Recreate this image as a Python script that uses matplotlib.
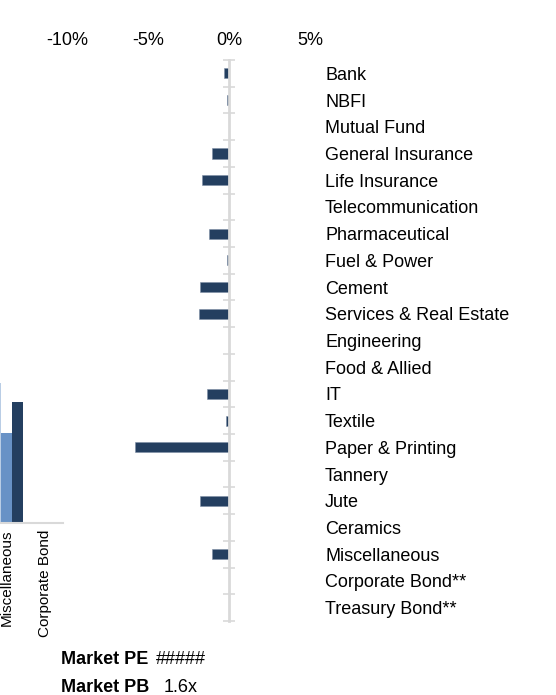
import matplotlib.pyplot as plt
import numpy as np

plt.rcParams['font.family'] = ['Liberation Sans', 'DejaVu Sans']

# sector-wise change (%)
sectors = ['Bank', 'NBFI', 'Mutual Fund', 'General Insurance', 'Life Insurance',
           'Telecommunication', 'Pharmaceutical', 'Fuel & Power', 'Cement',
           'Services & Real Estate', 'Engineering', 'Food & Allied', 'IT', 'Textile',
           'Paper & Printing', 'Tannery', 'Jute', 'Ceramics', 'Miscellaneous',
           'Corporate Bond**', 'Treasury Bond**']
change = [-0.3, -0.1, 0, -1.05, -1.65, 0, -1.22, -0.12, -1.8, -1.85, -0.02, 0,
          -1.35, -0.17, -5.8, 0, -1.8, 0.03, -1.08, 0, 0]
xticks = [-10, -5, 0, 5]

# partly visible chart on the left
side_cats = ['Miscellaneous', 'Corporate Bond']
side_a = [14.0, 0]
side_b = [9.0, 0]
side_c = [12.1, 0]

navy = '#243f60'
grey = '#d9d9d9'
fs = 13

W, H = 556, 695
fig = plt.figure(figsize=(W / 100, H / 100), dpi=100)

# main horizontal bar chart
px_per = 16.2
zero_px = 229
x0, x1 = -11.5, 5.5
left = zero_px + x0 * px_per
ax = fig.add_axes([left / W, (H - 621) / H, (x1 - x0) * px_per / W, 561 / H])
y = np.arange(len(sectors))
ax.barh(y, change, height=0.38, color=navy, edgecolor='#7f8fa6', linewidth=0.4)
ax.set_xlim(x0, x1)
ax.set_ylim(len(sectors) - 0.5, -0.5)

ax.xaxis.tick_top()
ax.set_xticks(xticks)
ax.set_xticklabels([f'{t}%' for t in xticks])
ax.tick_params(axis='x', length=0, labelsize=fs, pad=8)

ax.spines['left'].set_position(('data', 0))
ax.spines['left'].set_color(grey)
ax.spines['left'].set_linewidth(2)
for s in ['top', 'right', 'bottom']:
    ax.spines[s].set_visible(False)

ax.set_yticks(y)
ax.set_yticklabels(sectors)
ax.set_yticks(np.arange(len(sectors) + 1) - 0.5, minor=True)
ax.tick_params(axis='y', which='major', left=False, right=False,
               labelleft=False, labelright=True, pad=1.5, labelsize=fs)
ax.tick_params(axis='y', which='minor', left=True, right=False,
               direction='inout', length=8, width=1.2, color=grey)

# left chart (cut off)
ax2 = fig.add_axes([0, (H - 523) / H, 63 / W, 200 / H])
xc = np.arange(len(side_cats))
w = 11 / 38
ax2.bar(xc - w, side_a, w, color='#b9cde5')
ax2.bar(xc, side_b, w, color='#6892c6')
ax2.bar(xc + w, side_c, w, color=navy)
ax2.set_xlim(-6.5 / 38, (63 - 6.5) / 38)
ax2.set_ylim(0, 20)
ax2.set_xticks(xc)
ax2.set_xticklabels(side_cats, rotation=90)
ax2.tick_params(axis='x', length=0, labelsize=11, pad=5)
ax2.set_yticks([])
for s in ['top', 'right', 'left']:
    ax2.spines[s].set_visible(False)
ax2.spines['bottom'].set_color(grey)
ax2.spines['bottom'].set_linewidth(1.5)

# market stats
fig.text(61 / W, (H - 660) / H, 'Market PE', fontsize=fs, fontweight='bold', va='center')
fig.text(156 / W, (H - 660) / H, '#####', fontsize=fs, va='center')
fig.text(61 / W, (H - 687) / H, 'Market PB', fontsize=fs, fontweight='bold', va='center')
fig.text(164 / W, (H - 687) / H, '1.6x', fontsize=fs, va='center')

fig.savefig('out.png', dpi=100)
